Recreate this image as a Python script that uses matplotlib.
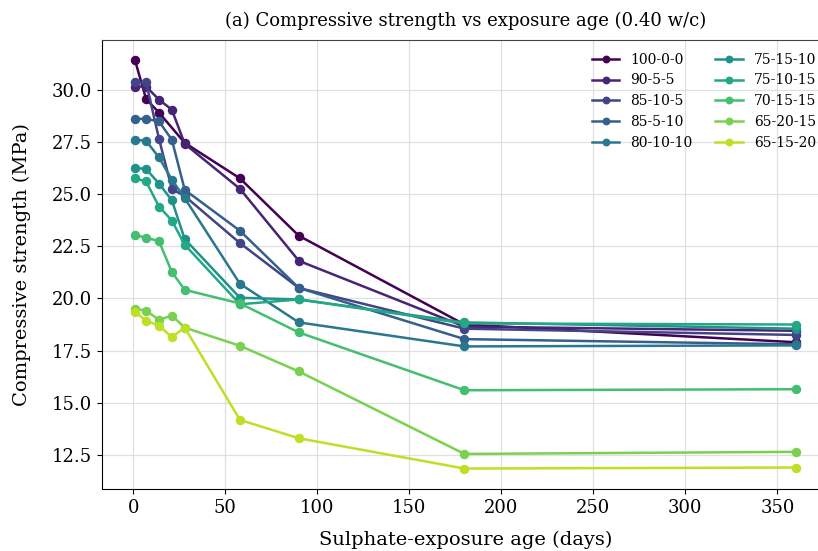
import numpy as np
import matplotlib
matplotlib.use('Agg')
import matplotlib.pyplot as plt

plt.rcParams['font.family'] = 'DejaVu Serif'
plt.rcParams['savefig.bbox'] = 'standard'

# sulphate-exposure ages (days)
ages = [1, 7, 14, 21, 28, 58, 90, 180, 360]

mixes = ['100-0-0', '90-5-5', '85-10-5', '85-5-10', '80-10-10',
         '75-15-10', '75-10-15', '70-15-15', '65-20-15', '65-15-20']

# compressive strength (MPa), None = no reading
s_100_0_0 = [31.4, 29.55, 28.9, None, 27.45, 25.75, 23.0, 18.75, 17.9]
s_90_5_5 = [30.15, 30.15, 29.52, 29.04, 27.4, 25.25, 21.8, 18.65, 18.45]
s_85_10_5 = [30.37, 30.35, 27.65, 25.24, 24.9, 22.65, 20.5, 18.55, 18.25]
s_85_5_10 = [28.6, 28.6, 28.48, 27.6, 25.2, 23.24, 20.5, 18.05, 17.8]
s_80_10_10 = [27.6, 27.55, 26.75, 25.69, 24.8, 20.7, 18.85, 17.7, 17.75]
s_75_15_10 = [26.25, 26.2, 25.5, 24.7, 22.84, 20.03, 19.95, 18.85, 18.55]
s_75_10_15 = [25.75, 25.6, 24.4, 23.73, 22.57, 19.72, 19.95, 18.8, 18.75]
s_70_15_15 = [23.05, 22.9, 22.75, 21.26, 20.41, 19.76, 18.37, 15.6, 15.65]
s_65_20_15 = [19.5, 19.42, 18.97, 19.18, 18.6, 17.73, 16.5, 12.55, 12.65]
s_65_15_20 = [19.35, 18.94, 18.69, 18.15, 18.6, 14.18, 13.3, 11.85, 11.9]

series = [s_100_0_0, s_90_5_5, s_85_10_5, s_85_5_10, s_80_10_10,
          s_75_15_10, s_75_10_15, s_70_15_15, s_65_20_15, s_65_15_20]

colors = plt.cm.viridis(np.linspace(0, 0.9, len(mixes)))

# a hair over 8.18 x 5.51 so the canvas truncates to 818 x 551
fig = plt.figure(figsize=(8.1805, 5.5105), dpi=100)
# axes runs past the right edge of the figure (cropped panel)
ax = fig.add_axes([0.1247, 0.1125, 0.8884, 0.8149])

for name, vals, c in zip(mixes, series, colors):
    xs = [a for a, v in zip(ages, vals) if v is not None]
    ys = [v for v in vals if v is not None]
    ax.plot(xs, ys, '-o', color=c, label=name, linewidth=1.8, markersize=5.8)

ax.set_xlim(-16.95, 377.95)
ax.set_ylim(10.87, 32.38)
ax.set_xticks(np.arange(0, 351, 50))
ax.set_yticks(np.arange(12.5, 30.01, 2.5))
ax.grid(True, color='#d9d9d9', linewidth=0.9, alpha=0.8)
ax.spines['right'].set_visible(False)
ax.spines['top'].set_color('#444444')
ax.tick_params(labelsize=13)
ax.set_xlabel('Sulphate-exposure age (days)', fontsize=14, labelpad=10)
ax.set_ylabel('Compressive strength (MPa)', fontsize=14, labelpad=15)
ax.set_title('(a) Compressive strength vs exposure age (0.40 w/c)', fontsize=13, pad=10)
ax.legend(ncol=2, fontsize=10, frameon=False, loc='upper right',
          markerscale=0.8, columnspacing=1.6)

fig.savefig('out.png', dpi=100)
